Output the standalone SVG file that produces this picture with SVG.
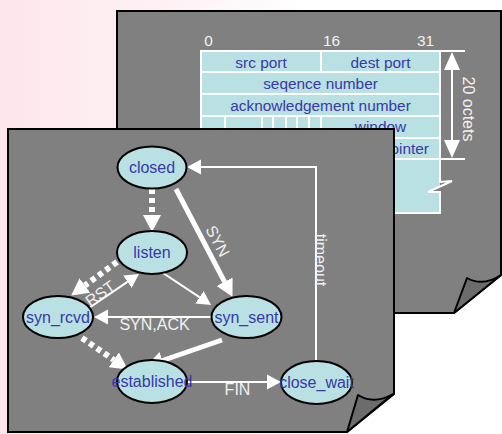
<svg xmlns="http://www.w3.org/2000/svg" width="502" height="434" viewBox="0 0 502 434">
<defs>
<linearGradient id="bg" x1="0" y1="0" x2="1" y2="0">
<stop offset="0" stop-color="#fde6ec"/>
<stop offset="0.35" stop-color="#fef2f5"/>
<stop offset="0.6" stop-color="#ffffff"/>
</linearGradient>
<marker id="big" markerUnits="userSpaceOnUse" viewBox="0 -10 18 20" markerWidth="18" markerHeight="20" refX="0" refY="0" orient="auto">
<path d="M0,-9 L17,0 L0,9 Z" fill="#ffffff"/>
</marker>
<marker id="small" markerUnits="userSpaceOnUse" viewBox="0 -8 15 16" markerWidth="15" markerHeight="16" refX="0" refY="0" orient="auto">
<path d="M0,-7.5 L14,0 L0,7.5 Z" fill="#ffffff"/>
</marker>
</defs>
<style>
.page{fill:#808080;stroke:#000;stroke-width:2;stroke-linejoin:miter}
.flap{fill:#6c6c6c;stroke:#000;stroke-width:2;stroke-linejoin:round}
.tl{stroke:#fff;stroke-width:2;fill:none}
.tt{font-family:"Liberation Sans",Arial,sans-serif;font-size:15.4px;fill:#3838a8;text-anchor:middle}
.hd{font-family:"Liberation Sans",Arial,sans-serif;font-size:15.4px;fill:#f2f2f2;text-anchor:middle}
.node ellipse{fill:#b9e0e3;stroke:#000;stroke-width:2}
.node text{font-family:"Liberation Sans",Arial,sans-serif;font-size:16px;fill:#3838a8;text-anchor:middle}
.thick{stroke:#fff;stroke-width:5;fill:none}
.dash{stroke:#fff;stroke-width:6;fill:none;stroke-dasharray:5,4}
.thin{stroke:#fff;stroke-width:2;fill:none}
.lbl{font-family:"Liberation Sans",Arial,sans-serif;font-size:16px;fill:#f0f0f0;text-anchor:middle}
</style>
<rect x="0" y="0" width="502" height="434" fill="url(#bg)"/>

<g id="header-page">
<path class="page" d="M117,11 H501 V275 L454,313 H117 Z"/>
<path class="flap" d="M454,313 L467,278 Q483,287 501,275 Z"/>
<text class="hd" x="208.5" y="46">0</text>
<text class="hd" x="331.5" y="46">16</text>
<text class="hd" x="425.5" y="46">31</text>
<path d="M201,51 H440 V186.5 L428,192 H440 V213 H201 Z" fill="#b9e0e3"/>
<path class="tl" d="M201,213 V51 H465 M440,51 V182 L452,181 L428,192 L440,192 V213 H201 M201,72 H440 M201,94 H440 M201,116 H440 M201,138 H440 M201,159 H465 M321,51 V72 M225,116 V138 M262,116 V138 M273,116 V138 M286,116 V138 M297,116 V138 M309,116 V138 M321,116 V159"/>
<text class="tt" x="261" y="67.5">src port</text>
<text class="tt" x="380.5" y="67.5">dest port</text>
<text class="tt" x="320.5" y="89">seqence number</text>
<text class="tt" x="320.5" y="110.5">acknowledgement number</text>
<text class="tt" x="380.5" y="132">window</text>
<text class="tt" x="429" y="153.5" style="text-anchor:end">pointer</text>
<path d="M452,68 V142" stroke="#fff" stroke-width="2"/>
<path d="M452,52 L460,70 L444,70 Z M452,158 L460,140 L444,140 Z" fill="#fff"/>
<text class="hd" transform="translate(463,109) rotate(90)" x="0" y="0" style="font-size:16px">20 octets</text>
</g>

<g id="state-page">
<path class="page" d="M8,129 H394 V394 L347,432 H8 Z"/>
<path class="flap" d="M347,432 L358,395 Q374,405 393,394 Z"/>
</g>

<g id="connectors">
<path class="dash" d="M152,189 L152,215" marker-end="url(#big)"/>
<path class="thick" d="M176,189 L224.6,281.8" marker-end="url(#big)"/>
<path class="thin" d="M163,273 L199.4,297.2" marker-end="url(#small)"/>
<path class="dash" d="M117,262 L84.9,285.5" marker-end="url(#big)"/>
<path class="thin" d="M89,308 L127.4,281.8" marker-end="url(#small)"/>
<path class="thin" d="M211,317 L108,317" marker-end="url(#small)"/>
<path class="thick" d="M222,340 L162.5,360.5" marker-end="url(#big)"/>
<path class="dash" d="M82,338 L113.8,359.9" marker-end="url(#big)"/>
<path class="thin" d="M187,382 L267,382" marker-end="url(#small)"/>
<path class="thin" d="M316,361 L316,167 L201,167" marker-end="url(#small)"/>
<text class="lbl" transform="translate(206.5,247) rotate(62)" x="0" y="-7">SYN</text>
<text class="lbl" transform="translate(104,299) rotate(-35)" x="0" y="-1">RST</text>
<text class="lbl" x="154.5" y="329.5">SYN,ACK</text>
<text class="lbl" x="237.5" y="395">FIN</text>
<text class="lbl" transform="translate(315,260) rotate(90)" x="0" y="0">timeout</text>
</g>

<g id="closed" class="node"><ellipse cx="152" cy="167.5" rx="34.5" ry="21"/><text x="152" y="173">closed</text></g>
<g id="listen" class="node"><ellipse cx="152" cy="252.5" rx="35" ry="21.5"/><text x="152" y="258">listen</text></g>
<g id="syn_rcvd" class="node"><ellipse cx="58" cy="317" rx="35" ry="21"/><text x="58" y="322.5">syn_rcvd</text></g>
<g id="syn_sent" class="node"><ellipse cx="246.5" cy="317" rx="35" ry="21"/><text x="246.5" y="322.5">syn_sent</text></g>
<g id="established" class="node"><ellipse cx="152" cy="381.5" rx="35" ry="21.5"/><text x="152" y="387">established</text></g>
<g id="close_wait" class="node"><ellipse cx="316.5" cy="382.5" rx="35.5" ry="21.5"/><text x="316.5" y="388">close_wait</text></g>
</svg>
